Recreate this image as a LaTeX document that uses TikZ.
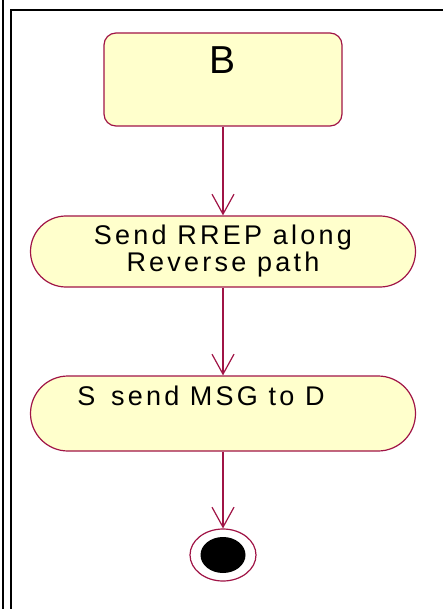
\documentclass[tikz,border=0pt]{standalone}
\usepackage{fontspec}
\setmainfont{Liberation Sans}[LetterSpace=12]
\newfontfamily\bigfont{Liberation Sans}
\usetikzlibrary{shapes.misc,shapes.geometric,arrows.meta}
\definecolor{umlred}{RGB}{160,20,70}
\definecolor{umlfill}{RGB}{255,255,204}
\tikzset{
  frameline/.style={line width=2pt,black},
  statebox/.style={draw=umlred,fill=umlfill,line width=1.2pt,rounded corners=12pt,
    minimum width=238pt,inner sep=0pt,font=\bigfont\fontsize{39}{39}\selectfont},
  activity/.style={draw=umlred,fill=umlfill,line width=1.2pt,rounded rectangle,
    minimum width=385pt,inner sep=0pt,align=center,font=\fontsize{27}{27}\selectfont},
  finalouter/.style={draw=umlred,fill=white,line width=1.2pt,ellipse,
    minimum width=66pt,minimum height=52pt,inner sep=0pt},
  finalinner/.style={fill=black,ellipse,minimum width=45pt,minimum height=36pt,inner sep=0pt},
  flow/.style={draw=umlred,line width=1.2pt,-{Straight Barb[length=20pt,width=22pt,line width=1.2pt]}}
}
\begin{document}
\begin{tikzpicture}[x=1pt,y=-1pt]
\useasboundingbox (0,0) rectangle (443,609);
% frame
\draw[frameline] (2.7,0) -- (2.7,609);
\draw[frameline] (11,609) -- (11,10.3) -- (443,10.3);
% nodes
\node[statebox,text height=41pt,text depth=52pt] (B) at (223,79.5) {B};
\node[activity,minimum height=71pt] (a1) at (223,251.5) {Send RREP along\\Reverse path};
\node[activity,minimum height=75pt] (a2) at (223,413.5) {S\ \hspace*{5pt}send MSG to D\hspace*{44pt}\\\strut};
\node[finalouter] (fin) at (223,555) {};
\node[finalinner] (finin) at (fin.center) {};
% flows
\draw[flow] (B.south) -- (a1.north);
\draw[flow] (a1.south) -- (a2.north);
\draw[flow] (a2.south) -- (fin.north);
\end{tikzpicture}
\end{document}
